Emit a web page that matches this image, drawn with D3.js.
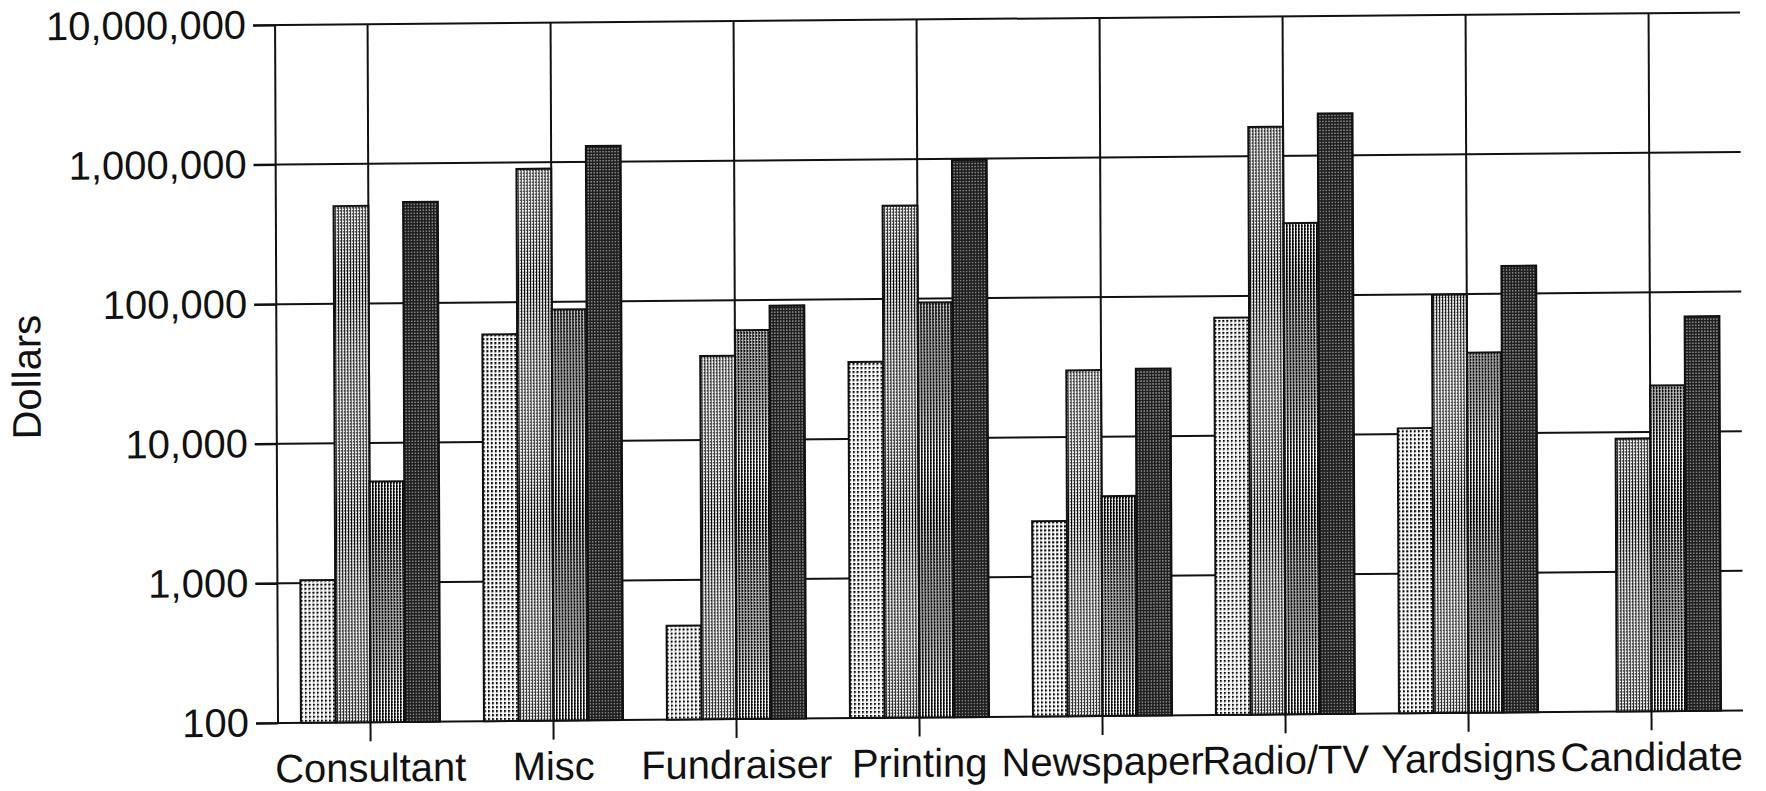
<!DOCTYPE html>
<html>
<head>
<meta charset="utf-8">
<script src="https://cdn.jsdelivr.net/npm/d3@7/dist/d3.min.js"></script>
<style>
  html, body { margin: 0; padding: 0; background: #fff; }
  svg { display: block; }
  text { font-family: "Liberation Sans", Arial, Helvetica, sans-serif; fill: #111; }
</style>
</head>
<body>
<svg id="chart" width="1766" height="791"></svg>
<script>
// Campaign spending by category (dollars, log scale)
const categories = ["Consultant", "Misc", "Fundraiser", "Printing", "Newspaper", "Radio/TV", "Yardsigns", "Candidate"];
const seriesNames = ["A", "B", "C", "D"];
const seriesA = [1050, 59000, 470, 35500, 2500, 70000, 11000, null];
const seriesB = [500000, 900000, 40000, 465000, 30000, 1620000, 99000, 9000];
const seriesC = [5300, 88000, 61000, 94000, 3750, 330000, 38000, 21500];
const seriesD = [530000, 1300000, 91000, 980000, 30500, 2000000, 158000, 67000];
const yTickValues = [100, 1000, 10000, 100000, 1000000, 10000000];
const yTickLabels = ["100", "1,000", "10,000", "100,000", "1,000,000", "10,000,000"];
const yTitle = "Dollars";

const seriesValues = [seriesA, seriesB, seriesC, seriesD];

(function () {
  const plotLeft = 278, plotRight = 1743, plotTop = 25, plotBottom = 723;
  const ink = "#111";
  const fontSize = 40;

  const svg = d3.select("#chart");

  // Halftone fills for the four series
  const defs = svg.append("defs");
  function pattern(id, size, bg, cells) {
    const p = defs.append("pattern").attr("id", id)
      .attr("patternUnits", "userSpaceOnUse")
      .attr("width", size).attr("height", size);
    p.append("rect").attr("width", size).attr("height", size).attr("fill", bg);
    cells.forEach(c => p.append("rect")
      .attr("x", c[0]).attr("y", c[1]).attr("width", c[2]).attr("height", c[3]).attr("fill", c[4]));
  }
  pattern("fillA", 4, "#fff", [[0, 0, 2, 2, "#000"], [0, 2, 1, 1, "#777"]]);
  pattern("fillB", 3, "#fff", [[0, 0, 1, 3, "#000"], [2, 1, 1, 1, "#000"]]);
  pattern("fillC", 3, "#fff", [[0, 0, 2, 3, "#000"], [1, 2, 1, 1, "#fff"]]);
  pattern("fillD", 3, "#202020", [[1, 1, 1, 1, "#fff"]]);
  const fills = ["url(#fillA)", "url(#fillB)", "url(#fillC)", "url(#fillD)"];

  // Slight skew of the printed page
  const ka = 0.0042, kb = -0.0086;
  const g = svg.append("g")
    .attr("transform", `matrix(1,${kb},${ka},1,${-ka * plotBottom},${-kb * plotLeft})`);

  const x0 = d3.scaleBand().domain(categories).range([plotLeft + 1, plotRight])
    .paddingInner(0.24).paddingOuter(0.12);
  const x1 = d3.scaleBand().domain(seriesNames).range([0, x0.bandwidth()]);
  const y = d3.scaleLog().domain([100, 10000000]).range([plotBottom, plotTop]);

  // horizontal grid
  g.append("g").selectAll("line").data(yTickValues).join("line")
    .attr("x1", plotLeft - 22).attr("x2", plotRight)
    .attr("y1", d => y(d)).attr("y2", d => y(d))
    .attr("stroke", ink).attr("stroke-width", 2);

  // vertical grid at category centres
  g.append("g").selectAll("line").data(categories).join("line")
    .attr("x1", d => x0(d) + x0.bandwidth() / 2).attr("x2", d => x0(d) + x0.bandwidth() / 2)
    .attr("y1", y(10000000)).attr("y2", y(100))
    .attr("stroke", ink).attr("stroke-width", 2);

  // left axis line
  g.append("line").attr("x1", plotLeft).attr("x2", plotLeft)
    .attr("y1", y(10000000)).attr("y2", y(100))
    .attr("stroke", ink).attr("stroke-width", 2);

  // bars
  const rows = categories.map((c, i) => ({
    cat: c,
    vals: seriesNames.map((s, j) => ({ s, j, v: seriesValues[j][i] }))
  }));
  g.append("g").selectAll("g").data(rows).join("g")
    .attr("transform", d => `translate(${x0(d.cat)},0)`)
    .selectAll("rect").data(d => d.vals.filter(e => e.v != null)).join("rect")
    .attr("x", d => x1(d.s))
    .attr("width", x1.bandwidth())
    .attr("y", d => y(d.v))
    .attr("height", d => y(100) - y(d.v))
    .attr("fill", d => fills[d.j])
    .attr("stroke", ink).attr("stroke-width", 2);

  // y axis ticks and labels
  const yAxis = d3.axisLeft(y).tickValues(yTickValues)
    .tickFormat((d, i) => yTickLabels[i])
    .tickSizeInner(22).tickSizeOuter(0).tickPadding(7);
  const ya = g.append("g").attr("transform", `translate(${plotLeft},0)`).call(yAxis);
  ya.select(".domain").remove();
  ya.selectAll("line").attr("stroke", ink).attr("stroke-width", 2);
  ya.selectAll("text").attr("font-size", fontSize).attr("dy", "0.32em").attr("fill", ink);

  // x axis ticks and labels
  const xAxis = d3.axisBottom(x0).tickSizeInner(19).tickSizeOuter(0).tickPadding(12);
  const xa = g.append("g").attr("transform", `translate(0,${plotBottom})`).call(xAxis);
  xa.select(".domain").remove();
  xa.selectAll("line").attr("stroke", ink).attr("stroke-width", 2);
  xa.selectAll("text").attr("font-size", fontSize).attr("fill", ink);

  // y axis title
  g.append("text")
    .attr("transform", `translate(42,375) rotate(-90)`)
    .attr("text-anchor", "middle")
    .attr("font-size", fontSize)
    .text(yTitle);
})();
</script>
</body>
</html>
